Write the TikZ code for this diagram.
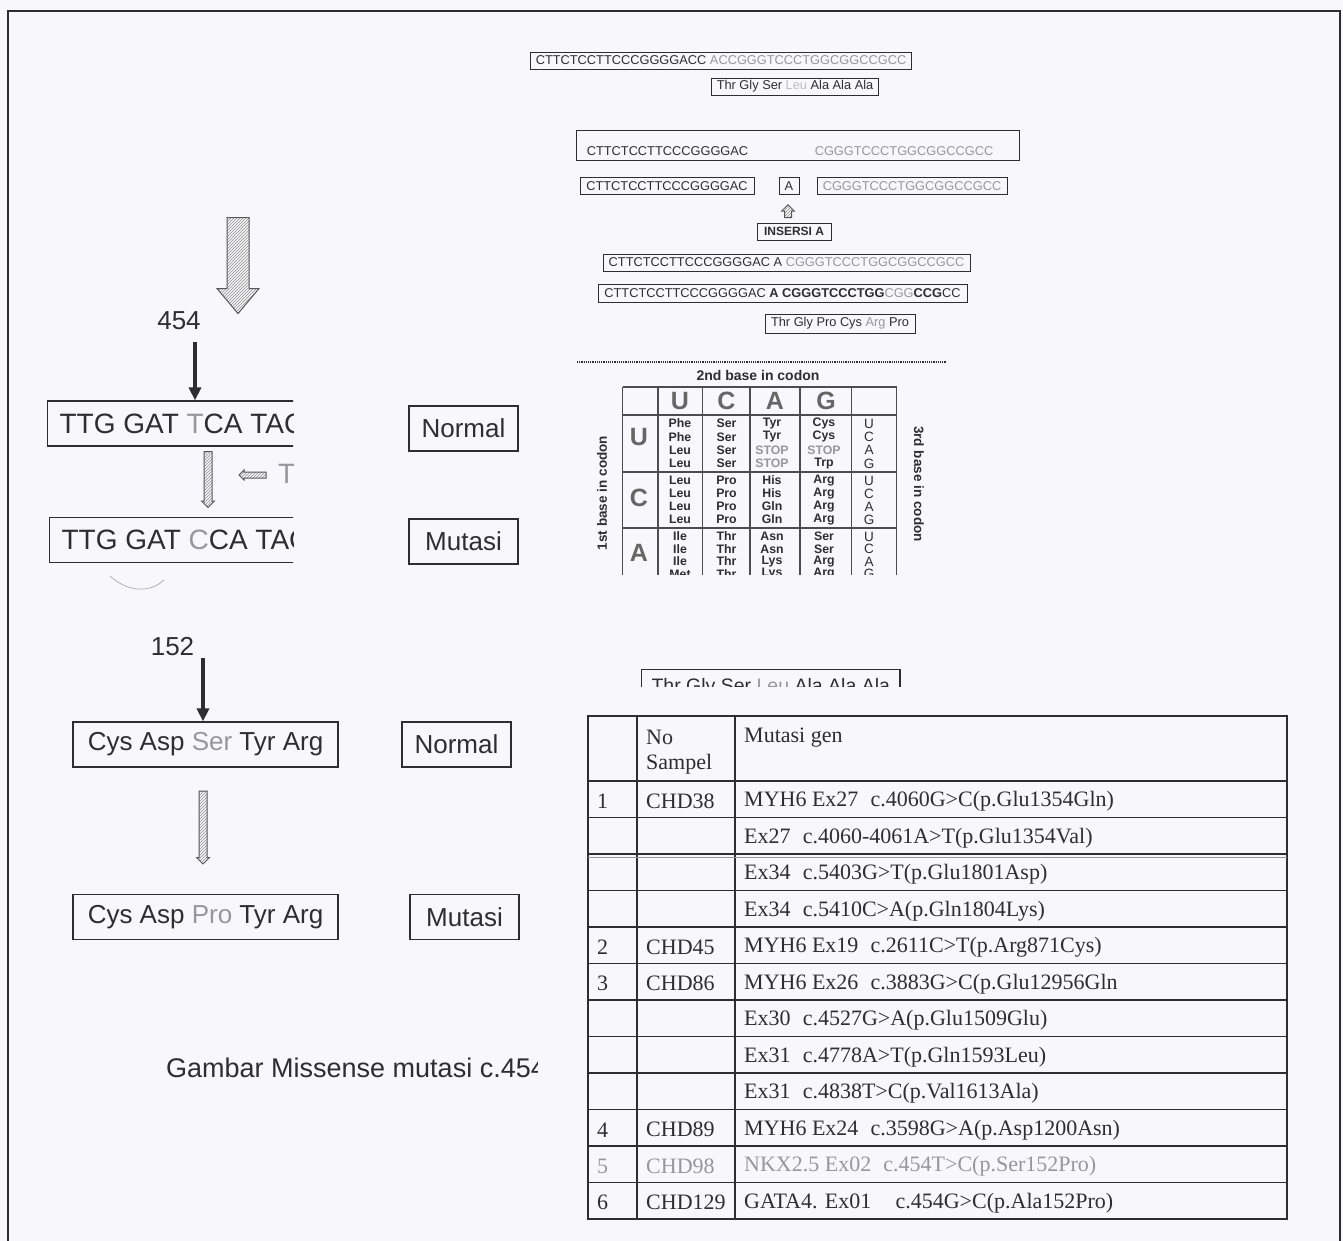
\documentclass[tikz,border=0pt]{standalone}
\usepackage{fontspec}
\setmainfont{Liberation Sans}
\newfontfamily\tabfont{Liberation Serif}
\usetikzlibrary{positioning,arrows.meta,shapes.arrows,patterns}
\definecolor{ink}{RGB}{45,45,50}
\definecolor{faint}{RGB}{150,150,156}
\definecolor{paper}{RGB}{248,248,252}
\newcommand\stp{\textcolor{faint}{STOP}}
\newcommand\gp{\hspace{0.55em}}

\begin{document}
\begin{tikzpicture}[x=1pt,y=-1pt,
  >=Latex,
  seq/.style={draw=ink, line width=0.9, text=ink, font=\fontsize{12.8}{14}\selectfont,
    inner xsep=5, inner ysep=0, minimum height=17},
  txt/.style={text=ink, font=\fontsize{12.8}{14}\selectfont, inner sep=0},
  big/.style={draw=ink, line width=1.2, text=ink, font=\fontsize{26}{30}\selectfont,
    inner xsep=12, inner ysep=0, minimum height=45},
  dna/.style={big, font=\fontsize{28}{30}\selectfont},
  tag/.style={big, minimum width=109, inner xsep=0},
  num/.style={text=ink, font=\fontsize{26}{30}\selectfont, inner sep=0},
  blk/.style={draw=ink, line width=4, -{Triangle[length=13pt,width=12pt]}},
  hatch/.style={single arrow, draw=ink!80, line width=1, pattern=north east lines,
    pattern color=black!45, inner xsep=0, single arrow head indent=0},
  cell/.style={text=ink, font=\bfseries\fontsize{12.3}{13}\selectfont, inner sep=0},
  base/.style={text=black!60, font=\bfseries\fontsize{25}{26}\selectfont, inner sep=0},
  grid/.style={draw=ink!85, line width=1.1},
  tab/.style={text=ink, font=\tabfont\fontsize{22}{27}\selectfont, inner sep=0, anchor=west},
  rule/.style={draw=ink, line width=1.3}
]
\useasboundingbox (0,0) rectangle (1343,1241);
\fill[paper] (0,0) rectangle (1343,1241);
\draw[ink, line width=1.3] (8,1241) -- (8,11) -- (1340,11) -- (1340,1241);

% insertion
\node[seq] (s1) at (721,60.5) {CTTCTCCTTCCCGGGGACC \textcolor{faint}{ACCGGGTCCCTGGCGGCCGCC}};
\node[seq] (s2) at (795,86.5) {Thr Gly Ser \textcolor{black!25}{Leu} Ala Ala Ala};
\node[seq, minimum width=443, minimum height=30] (s3) at (797.5,145) {};
\node[txt] (s3a) at (667.5,151) {CTTCTCCTTCCCGGGGAC};
\node[txt, text=faint] (s3b) at (904,151) {CGGGTCCCTGGCGGCCGCC};
\node[seq, minimum width=174] (s4) at (667,186) {CTTCTCCTTCCCGGGGAC};
\node[seq, minimum width=20, inner xsep=0] (sa) at (789,186) {A};
\node[seq, minimum width=190, text=faint] (s5) at (912,186) {CGGGTCCCTGGCGGCCGCC};
\node[hatch, rotate=90, minimum height=13, inner ysep=3, single arrow head extend=3] (up) at (788,213) {};
\node[seq, font=\bfseries\fontsize{12}{14}\selectfont, minimum width=74] (ins) at (794,231.5) {INSERSI A};
\node[seq, minimum width=367] (s6) at (786.5,262.5) {CTTCTCCTTCCCGGGGAC A \textcolor{faint}{CGGGTCCCTGGCGGCCGCC}};
\node[seq, minimum width=369, minimum height=18] (s7) at (782.5,293) {CTTCTCCTTCCCGGGGAC \textbf{A CGGGTCCCTGG}\textcolor{faint}{CGG}\textbf{CCG}CC};
\node[seq, minimum width=150, minimum height=19] (s8) at (840,323.5) {Thr Gly Pro Cys \textcolor{faint}{Arg} Pro};
\draw[ink, line width=1.2, densely dotted] (577,362) -- (946,362);

% codon table
\node[font=\bfseries\fontsize{14}{15}\selectfont, text=ink, inner sep=0] (second) at (758,375) {2nd base in codon};
\node[font=\bfseries\fontsize{13.5}{15}\selectfont, text=ink, inner sep=0, rotate=90] (first) at (602,493) {1st base in codon};
\node[font=\bfseries\fontsize{13.5}{15}\selectfont, text=ink, inner sep=0, rotate=-90] (third) at (919,484) {3rd base in codon};
\begin{scope}
\clip (560,366) rectangle (960,574);
\foreach \x in {622.7,658,702.7,750,800,851.7,896.7} \draw[grid] (\x,387) -- (\x,580);
\foreach \y in {387,415,472,528} \draw[grid] (622.7,\y) -- (896.7,\y);
\foreach \l/\x [count=\i] in {U/680,C/726.5,A/775,G/826} \node[base] (h\i) at (\x,401) {\l};
\foreach \l/\y [count=\i] in {U/437,C/498,A/553} \node[base] (f\i) at (639,\y) {\l};
\foreach \y/\a/\b/\c/\d/\e [count=\i] in {
  423.5/Phe/Ser/Tyr/Cys/U, 436.8/Phe/Ser/Tyr/Cys/C, 450.1/Leu/Ser/\stp/\stp/A, 463.4/Leu/Ser/\stp/Trp/G,
  480.5/Leu/Pro/His/Arg/U, 493.5/Leu/Pro/His/Arg/C, 506.5/Leu/Pro/Gln/Arg/A, 519.5/Leu/Pro/Gln/Arg/G,
  536.5/Ile/Thr/Asn/Ser/U, 549/Ile/Thr/Asn/Ser/C, 561.5/Ile/Thr/Lys/Arg/A, 574/Met/Thr/Lys/Arg/G}{
  \node[cell] (ca\i) at (680,\y) {\a};
  \node[cell] (cb\i) at (726.5,\y) {\b};
  \node[cell] (cc\i) at (772,\y) {\c};
  \node[cell] (cd\i) at (824,\y) {\d};
  \node[cell, font=\fontsize{13.5}{14}\selectfont] (ce\i) at (869,\y) {\e};
}
\end{scope}

% c.454 T>C
\node[hatch, rotate=-90, minimum height=96, inner ysep=10.5, single arrow head extend=10, single arrow tip angle=80] (down) at (238,259) {};
\node[num] (n454) at (179,321) {454};
\coordinate (p454) at (195,342);
\begin{scope}
\clip (30,380) rectangle (293,600);
\node[dna, anchor=west] (tca) at (47,423.5) {TTG GAT \textcolor{faint}{T}CA TAC};
\node[num, font=\fontsize{28}{30}\selectfont, text=faint, anchor=west] (tt) at (278,474) {T};
\node[dna, anchor=west] (cca) at (49,540) {TTG GAT \textcolor{faint}{C}CA TAC};
\end{scope}
\draw[blk] (p454) -- (p454 |- tca.north);
\node[tag] (nrm1) at (463.5,428.5) {Normal};
\node[tag] (mut1) at (463.5,541.5) {Mutasi};
\node[hatch, rotate=-90, minimum height=56, inner ysep=3.5, single arrow head extend=2.5] (dn1) at (208,477.5) {};
\node[hatch, rotate=180, minimum height=27, inner ysep=2.5, single arrow head extend=2] (lf1) at (254,475) {};
\draw[black!30, line width=0.8] (110,576) .. controls (125,590) and (148,595) .. (164,580);

% p.Ser152Pro
\node[num] (n152) at (172.5,646.5) {152};
\coordinate (p152) at (203,658);
\node[big, minimum width=265] (ser) at (205.5,744.5) {Cys Asp \textcolor{faint}{Ser} Tyr Arg};
\draw[blk] (p152) -- (p152 |- ser.north);
\node[tag] (nrm2) at (456.5,744.5) {Normal};
\node[hatch, rotate=-90, minimum height=73, inner ysep=3.5, single arrow head extend=2.5] (dn2) at (203,825.5) {};
\node[big, minimum width=265] (pro) at (205.5,917) {Cys Asp \textcolor{faint}{Pro} Tyr Arg};
\node[tag] (mut2) at (464.5,917) {Mutasi};
\begin{scope}
\clip (150,1040) rectangle (537,1100);
\node[num, font=\fontsize{27}{30}\selectfont, anchor=west] (cap) at (166,1068) {Gambar Missense mutasi c.454};
\end{scope}

% mutation table
\begin{scope}
\clip (630,660) rectangle (910,686);
\node[draw=ink, line width=1.1, text=ink, font=\fontsize{19.5}{22}\selectfont, anchor=north west,
  text height=17, text depth=4, inner ysep=6, inner xsep=10] (thr2) at (641,669) {Thr Gly Ser \textcolor{faint}{Leu} Ala Ala Ala};
\end{scope}
\draw[rule] (588,716) rectangle (1287,1219);
\foreach \x in {637,735} \draw[rule] (\x,716) -- (\x,1219);
\foreach \k in {0,...,11} \draw[rule] (588,781+36.5*\k) -- (1287,781+36.5*\k);
\draw[faint, line width=0.8] (588,857) -- (1287,857);
\node[tab] (hno) at (646,737) {No};
\node[tab] (hsp) at (646,764) {Sampel};
\node[tab] (hmg) at (744,738) {Mutasi gen};
\foreach \n/\s/\m/\c [count=\i] in {
  1/CHD38/{MYH6 Ex27\gp c.4060G>C(p.Glu1354Gln)}/ink,
  {}/{}/{Ex27\gp c.4060-4061A>T(p.Glu1354Val)}/ink,
  {}/{}/{Ex34\gp c.5403G>T(p.Glu1801Asp)}/ink,
  {}/{}/{Ex34\gp c.5410C>A(p.Gln1804Lys)}/ink,
  2/CHD45/{MYH6 Ex19\gp c.2611C>T(p.Arg871Cys)}/ink,
  3/CHD86/{MYH6 Ex26\gp c.3883G>C(p.Glu12956Gln}/ink,
  {}/{}/{Ex30\gp c.4527G>A(p.Glu1509Glu)}/ink,
  {}/{}/{Ex31\gp c.4778A>T(p.Gln1593Leu)}/ink,
  {}/{}/{Ex31\gp c.4838T>C(p.Val1613Ala)}/ink,
  4/CHD89/{MYH6 Ex24\gp c.3598G>A(p.Asp1200Asn)}/ink,
  5/CHD98/{NKX2.5 Ex02\gp c.454T>C(p.Ser152Pro)}/faint,
  6/CHD129/{GATA4. Ex01\gp\gp c.454G>C(p.Ala152Pro)}/ink}{
  \node[tab, text=\c] (no\i) at (597,764.75+36.5*\i) {\n};
  \node[tab, text=\c] (sm\i) at (646,764.75+36.5*\i) {\s};
  \node[tab, text=\c] (mg\i) at (744,764.75+36.5*\i) {\m};
}
\end{tikzpicture}
\end{document}
